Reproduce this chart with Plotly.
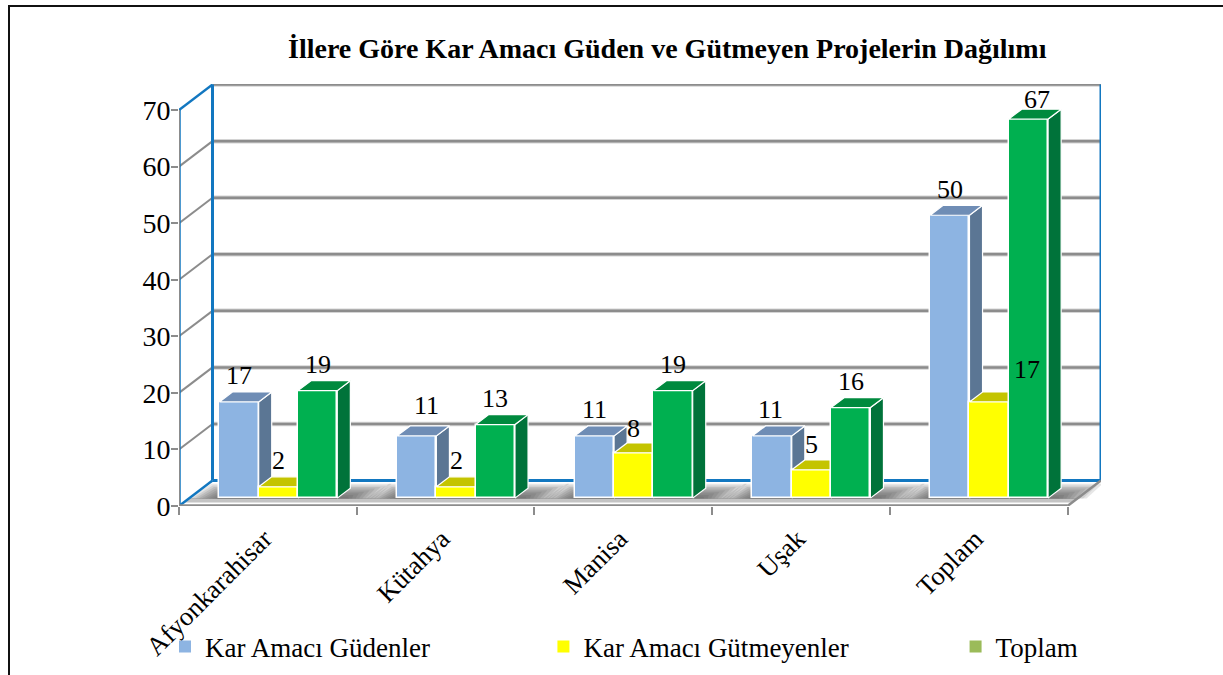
import plotly.graph_objects as go

# ---------- data ----------
categories = ["Afyonkarahisar", "Kütahya", "Manisa", "Uşak", "Toplam"]
guden = [17, 11, 11, 11, 50]
gutmeyen = [2, 2, 8, 5, 17]
toplam = [19, 13, 19, 16, 67]
y_ticks = [0, 10, 20, 30, 40, 50, 60, 70]
series_names = ["Kar Amacı Güdenler", "Kar Amacı Gütmeyenler", "Toplam"]
title_text = "İllere Göre Kar Amacı Güden ve Gütmeyen Projelerin Dağılımı"

# ---------- styles ----------
front_colors = ["#8DB4E2", "#FFFF00", "#00B050"]
top_colors = ["#6F8DB5", "#C4C400", "#008A3E"]
side_colors = ["#5B7694", "#9E9E00", "#00733A"]
legend_colors = ["#8DB4E2", "#FFFF00", "#9BBB59"]
GREY = "#8C8C8C"
BLUE = "#1277C0"
FONT = "Liberation Serif"

W, H = 1223, 675
L, R, T, B = 179, 122, 84, 169
PW, PH = W - L - R, H - T - B

# oblique projection: depth 0 = front edge of floor, depth 1 = back wall
DX, DY = 0.1885, 4.5
Y_MAX = 74.6
BAR_W = 0.2212
GROUP_START = -0.3313   # left edge of group relative to category at depth 0
D0, D1 = 0.31, 0.70     # bar front / back depth


def proj(x, v, d):
    return x + d * DX, v + d * DY


def px(p):
    return (p - L) / PW


def py(p):
    return (H - B - p) / PH


fig = go.Figure()


def poly(pts, color, zorder, line="white", lw=1.2):
    fig.add_trace(go.Scatter(
        x=[p[0] for p in pts] + [pts[0][0]], y=[p[1] for p in pts] + [pts[0][1]],
        mode="lines", fill="toself", fillcolor=color,
        line=dict(color=line, width=lw), hoverinfo="skip", showlegend=False, zorder=zorder))


def seg(a, b, color, width, zorder=0):
    fig.add_trace(go.Scatter(
        x=[a[0], b[0]], y=[a[1], b[1]], mode="lines",
        line=dict(color=color, width=width), hoverinfo="skip", showlegend=False, zorder=zorder))


x0, x1 = -0.5, 4.5
vt = y_ticks[-1]

# floor strip and shadows
poly([proj(x0, 0, 0.14), proj(x1, 0, 0.14), proj(x1, 0, D0), proj(x0, 0, D0)],
     "#C4C4C4", 0, line="rgba(0,0,0,0)", lw=0)
NL = 9
for c in range(len(categories)):
    g0 = c + GROUP_START
    g1 = g0 + 3 * BAR_W
    for k in range(NL):
        f = (k + 1) / NL
        ext = 0.17 * f
        poly([proj(g0 - ext, 0, D0 - 0.02), proj(g1 + ext + 0.05, 0, D0 - 0.02),
              proj(g1 + ext + 0.05 - 0.02, 0, D0 + 0.56 * f), proj(g0 - ext + 0.02, 0, D0 + 0.56 * f)],
             "rgba(80,80,80,0.14)", 0, line="rgba(0,0,0,0)", lw=0)

# back wall gridlines and side-wall gridlines
for v in y_ticks[1:]:
    seg(proj(x0, v, 1), proj(x1, v, 1), "#D4D4D4", 4.5)
    seg(proj(x0, v, 1), proj(x1, v, 1), GREY, 2.5)
for v in y_ticks[1:-1]:
    seg(proj(x0, v, 0), proj(x0, v, 1), GREY, 2)

# blue walls
seg(proj(x0, 0, 1), proj(x1, 0, 1), BLUE, 3)
seg(proj(x0, 0, 1), proj(x0, vt, 1), BLUE, 3)
seg(proj(x1, 0, 1), proj(x1, vt, 1), BLUE, 3)
seg(proj(x0, 0, 0), proj(x0, 0, 1), BLUE, 2.5)
seg(proj(x0, vt, 0), proj(x0, vt, 1), BLUE, 2.5)
seg(proj(x0, 0, 0), proj(x0, vt, 0), BLUE, 3.5)
seg(proj(x0, 0, 0), proj(x0, vt, 0), GREY, 2)
seg(proj(x1, 0, 0), proj(x1, 0, 1), GREY, 2.5)
seg(proj(x0, 0, 0), proj(x1, 0, 0), GREY, 3.5)

# bars
all_series = [guden, gutmeyen, toplam]
for s, vals in enumerate(all_series):
    z = s + 1
    xs = [i + GROUP_START + s * BAR_W for i in range(len(categories))]
    bx = [proj(a, 0, D0)[0] for a in xs]
    base = proj(0, 0, D0)[1]
    fig.add_trace(go.Bar(
        x=bx, y=vals, base=[base] * len(vals), width=[BAR_W] * len(vals), offset=0,
        marker=dict(color=front_colors[s], line=dict(color="white", width=1.5)),
        hoverinfo="skip", showlegend=False, zorder=z))
    for a, v in zip(xs, vals):
        b = a + BAR_W
        poly([proj(b, 0, D0), proj(b, 0, D1), proj(b, v, D1), proj(b, v, D0)], side_colors[s], z)
        poly([proj(a, v, D0), proj(b, v, D0), proj(b, v, D1), proj(a, v, D1)], top_colors[s], z)

# legend keys
for name, col, pad in zip(series_names, legend_colors, [18, 17, 0]):
    fig.add_trace(go.Scatter(
        x=[None], y=[None], mode="markers", name=name + "\u00a0" * pad,
        marker=dict(symbol="square", size=11, color=col)))

# data labels (manual shifts mirror the placement in the source chart)
shifts = {(0, 1): (10, 4), (0, 2): (0, 0), (0, 3): (-2, 0), (1, 2): (0, -2), (1, 3): (0, -1),
          (1, 4): (38, 6), (2, 4): (9, -6)}
annots = []
for s, vals in enumerate(all_series):
    for i, v in enumerate(vals):
        a = i + GROUP_START + s * BAR_W + BAR_W / 2
        xp, yp = proj(a, v, D0)
        sx, sy = shifts.get((s, i), (0, 0))
        annots.append(dict(x=xp, y=yp, text=str(v), showarrow=False, xanchor="center", yanchor="middle",
                           xshift=sx, yshift=26 + sy, font=dict(family=FONT, size=26, color="black")))

annots.append(dict(xref="paper", yref="paper", x=px(667), y=py(48), text="<b>" + title_text + "</b>",
                   showarrow=False, xanchor="center", yanchor="middle",
                   font=dict(family=FONT, size=28, color="black")))

# outer frame (left and top edges only)
frame = [dict(type="path", xref="paper", yref="paper", line=dict(color="#111111", width=2),
              path=f"M {px(9)} {py(675)} L {px(9)} {py(6)} L {px(1223)} {py(6)}", layer="above")]

fig.update_layout(
    width=W, height=H, autosize=False,
    margin=dict(l=L, r=R, t=T, b=B, pad=0, autoexpand=False),
    paper_bgcolor="white", plot_bgcolor="white",
    barmode="overlay", bargap=0,
    showlegend=True,
    legend=dict(orientation="h", x=px(178), y=py(647), xanchor="left", yanchor="middle", indentation=-13,
                font=dict(family=FONT, size=27, color="black"), bgcolor="rgba(0,0,0,0)",
                traceorder="normal", itemsizing="constant"),
    annotations=annots, shapes=frame,
    xaxis=dict(range=[x0, x1 + DX], tickmode="array", tickvals=[i - 0.02 for i in range(len(categories))],
               ticktext=categories, tickangle=-45, ticks="", showgrid=False, zeroline=False, showline=False,
               tickfont=dict(family=FONT, size=26.5, color="black"), ticklabelstandoff=11,
               minor=dict(tickmode="array", tickvals=[x0 + i for i in range(len(categories) + 1)], ticks="outside",
                          ticklen=8, tickwidth=2, tickcolor=GREY, showgrid=False)),
    yaxis=dict(range=[0, Y_MAX], tickmode="array", tickvals=y_ticks, ticks="outside", ticklen=7, tickwidth=2,
               tickcolor=GREY, showgrid=False, zeroline=False, showline=False, ticklabelstandoff=-5,
               tickfont=dict(family=FONT, size=28, color="black")),
)

fig.write_html("out.html", post_script="document.body.style.margin='0';", config={"displayModeBar": False})
